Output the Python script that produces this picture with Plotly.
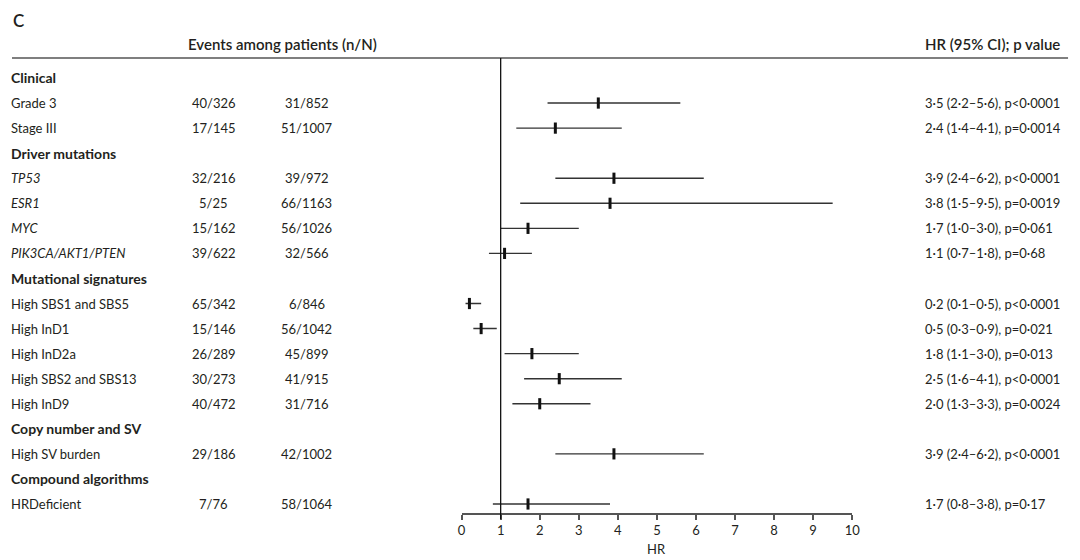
import plotly.graph_objects as go

# Datos del forest plot
groups = ["Clinical", "Driver mutations", "Mutational signatures",
          "Copy number and SV", "Compound algorithms"]
features = ["Grade 3", "Stage III", "TP53", "ESR1", "MYC", "PIK3CA/AKT1/PTEN",
            "High SBS1 and SBS5", "High InD1", "High InD2a", "High SBS2 and SBS13",
            "High InD9", "High SV burden", "HRDeficient"]
feature_group = [0, 0, 1, 1, 1, 1, 2, 2, 2, 2, 2, 3, 4]
italic = [False, False, True, True, True, True,
          False, False, False, False, False, False, False]
events_a = ["40/326", "17/145", "32/216", "5/25", "15/162", "39/622",
            "65/342", "15/146", "26/289", "30/273", "40/472", "29/186", "7/76"]
events_b = ["31/852", "51/1007", "39/972", "66/1163", "56/1026", "32/566",
            "6/846", "56/1042", "45/899", "41/915", "31/716", "42/1002", "58/1064"]
hr = [3.5, 2.4, 3.9, 3.8, 1.7, 1.1, 0.2, 0.5, 1.8, 2.5, 2.0, 3.9, 1.7]
ci_low = [2.2, 1.4, 2.4, 1.5, 1.0, 0.7, 0.1, 0.3, 1.1, 1.6, 1.3, 2.4, 0.8]
ci_high = [5.6, 4.1, 6.2, 9.5, 3.0, 1.8, 0.5, 0.9, 3.0, 4.1, 3.3, 6.2, 3.8]
p_text = ["p<0·0001", "p=0·0014", "p<0·0001", "p=0·0019", "p=0·061", "p=0·68",
          "p<0·0001", "p=0·021", "p=0·013", "p<0·0001", "p=0·0024", "p<0·0001", "p=0·17"]
x_ticks = [0, 1, 2, 3, 4, 5, 6, 7, 8, 9, 10]

FONT = "Lato, 'Open Sans', sans-serif"
INK = "#231f20"

# La página tiene 8 px de margen en el body: la figura ocupa el resto de la ventana
W, H, OFF = 1072, 552, 8


def px(x):
    return (x - OFF) / W


def py(y):
    return 1 - (y - OFF) / H


def dot(v):
    return f"{v:.1f}".replace(".", "·")


# Posiciones de las filas (cabecera de grupo + variables)
group_row = {}
feat_row = [0] * len(features)
row = 0
for g in range(len(groups)):
    group_row[g] = row
    row += 1
    for i, fg in enumerate(feature_group):
        if fg == g:
            feat_row[i] = row
            row += 1
y_feat = [-r for r in feat_row]

fig = go.Figure()

# Intervalos de confianza
ex, ey = [], []
for lo, hi, y in zip(ci_low, ci_high, y_feat):
    ex += [lo, hi, None]
    ey += [y, y, None]
fig.add_trace(go.Scatter(x=ex, y=ey, mode="lines",
                         line=dict(color="#333333", width=1.4),
                         hoverinfo="skip", cliponaxis=False))

# Estimaciones puntuales
fig.add_trace(go.Scatter(x=hr, y=y_feat, mode="markers",
                         marker=dict(symbol="line-ns", size=8,
                                     line=dict(color="#111111", width=3)),
                         cliponaxis=False))

ann = []
txt = dict(family=FONT, size=13, color=INK)
for g, name in enumerate(groups):
    ann.append(dict(x=px(5), xref="paper", y=-group_row[g], yref="y",
                    text=name, showarrow=False, xanchor="left",
                    font=dict(family=FONT, size=14, color=INK, weight=700)))
for i, name in enumerate(features):
    y = y_feat[i]
    label = f"<i>{name}</i>" if italic[i] else name
    ann.append(dict(x=px(5), xref="paper", y=y, yref="y", text=label,
                    showarrow=False, xanchor="left", font=txt))
    ann.append(dict(x=px(212), xref="paper", y=y, yref="y", text=events_a[i],
                    showarrow=False, xanchor="center", font=txt))
    ann.append(dict(x=px(306), xref="paper", y=y, yref="y", text=events_b[i],
                    showarrow=False, xanchor="center", font=txt))
    ann.append(dict(x=px(929), xref="paper", y=y, yref="y",
                    text=f"{dot(hr[i])} ({dot(ci_low[i])}–{dot(ci_high[i])}), {p_text[i]}",
                    showarrow=False, xanchor="left", font=txt))

# Títulos de cabecera
head = dict(family=FONT, size=15, color=INK, weight=600)
ann.append(dict(x=px(7), xref="paper", y=py(8), yref="paper", text="C",
                showarrow=False, xanchor="left", yanchor="top",
                font=dict(family=FONT, size=17, color=INK, weight=600)))
ann.append(dict(x=px(282), xref="paper", y=py(44), yref="paper",
                text="Events among patients (n/N)", showarrow=False,
                xanchor="center", yanchor="middle", font=head))
ann.append(dict(x=px(929), xref="paper", y=py(44), yref="paper",
                text="HR (95% CI); p value", showarrow=False,
                xanchor="left", yanchor="middle", font=head))
ann.append(dict(x=5, xref="x", y=py(549), yref="paper", text="HR",
                showarrow=False, xanchor="center", yanchor="middle",
                font=dict(family=FONT, size=13, color=INK)))

y_top = py(58)
y_bot = py(513)

fig.update_layout(
    width=W, height=H,
    margin=dict(l=0, r=0, t=0, b=0),
    plot_bgcolor="white", paper_bgcolor="white",
    showlegend=False,
    annotations=ann,
    shapes=[
        dict(type="line", xref="paper", yref="paper", x0=0, x1=px(1076),
             y0=y_top, y1=y_top, line=dict(color="#555555", width=1.5)),
        dict(type="line", xref="x", yref="paper", x0=1, x1=1,
             y0=py(519), y1=y_top, line=dict(color="#111111", width=1.3)),
    ],
    xaxis=dict(domain=[px(462.7), px(857.7)], range=[0, 10],
               tickvals=x_ticks, ticktext=[str(t) for t in x_ticks],
               showline=True, linecolor="#555555", linewidth=1.5,
               ticks="outside", ticklen=5, tickwidth=1.5, tickcolor="#555555",
               showgrid=False, zeroline=False, anchor="y",
               tickfont=dict(family=FONT, size=13, color=INK)),
    yaxis=dict(domain=[y_bot, y_top], range=[-17.36, 0.798],
               visible=False, showgrid=False, zeroline=False),
)

fig.write_html("out.html")
